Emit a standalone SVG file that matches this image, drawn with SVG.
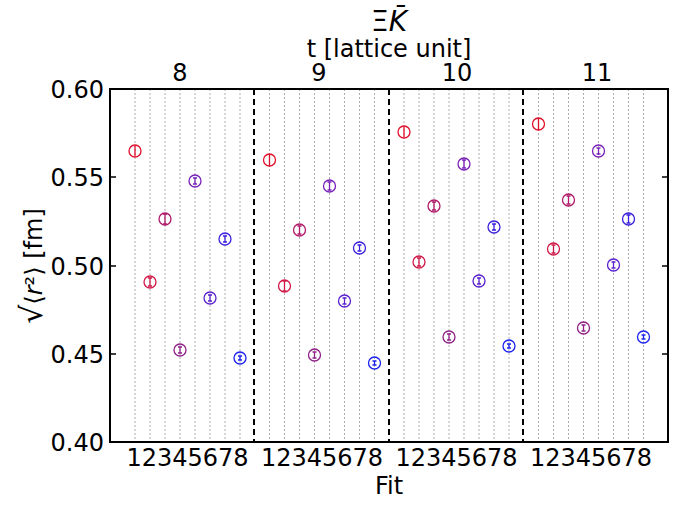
<svg xmlns="http://www.w3.org/2000/svg" width="674" height="505" viewBox="0 0 674 505">
<style>
text{font-family:"DejaVu Sans",sans-serif;fill:#000}
.t{font-size:24px}
.g{stroke:#999;stroke-width:0.8;stroke-dasharray:2,2}
.d{stroke:#000;stroke-width:2;stroke-dasharray:6,4}
.p circle{fill:none;stroke-width:1.3}
.p path{fill:none;stroke-width:1.3}
</style>
<rect width="674" height="505" fill="#fff"/>
<g id="grid">
<path class="g" d="M135,89V442M150,89V442M165,89V442M180,89V442M195,89V442M210,89V442M225,89V442M240,89V442M269.5,89V442M284.5,89V442M299.5,89V442M314.5,89V442M329.5,89V442M344.5,89V442M359.5,89V442M374.5,89V442M404,89V442M419,89V442M434,89V442M449,89V442M464,89V442M479,89V442M494,89V442M509,89V442M538.5,89V442M553.5,89V442M568.5,89V442M583.5,89V442M598.5,89V442M613.5,89V442M628.5,89V442M643.5,89V442"/>
</g>
<g id="connectors">
<path class="d" d="M254,89V442M389,89V442M523,89V442"/>
</g>
<g id="points" class="p">
<g stroke="#e0102a"><circle cx="135" cy="151" r="6"/><circle cx="269.5" cy="160" r="6"/><circle cx="404" cy="132" r="6"/><circle cx="538.5" cy="124" r="6"/><path d="M135,146V156M269.5,154V166M404,127V137M538.5,118V130"/></g>
<g stroke="#d01848"><circle cx="150" cy="282" r="6"/><circle cx="284.5" cy="286" r="6"/><circle cx="419" cy="262" r="6"/><circle cx="553.5" cy="249" r="6"/><path d="M148,278h4M150,278V286M148,286h4M282.5,281h4M284.5,281V291M282.5,291h4M417,258h4M419,258V266M417,266h4M551.5,245h4M553.5,245V253M551.5,253h4"/></g>
<g stroke="#b01868"><circle cx="165" cy="219" r="6"/><circle cx="299.5" cy="230" r="6"/><circle cx="434" cy="206" r="6"/><circle cx="568.5" cy="200" r="6"/><path d="M163,214h4M165,214V224M163,224h4M297.5,226h4M299.5,226V234M297.5,234h4M432,202h4M434,202V210M432,210h4M566.5,196h4M568.5,196V204M566.5,204h4"/></g>
<g stroke="#902088"><circle cx="180" cy="350" r="6"/><circle cx="314.5" cy="355" r="6"/><circle cx="449" cy="337" r="6"/><circle cx="583.5" cy="328" r="6"/><path d="M178,347h4M180,347V353M178,353h4M312.5,352h4M314.5,352V358M312.5,358h4M447,334h4M449,334V340M447,340h4M581.5,325h4M583.5,325V331M581.5,331h4"/></g>
<g stroke="#7820b8"><circle cx="195" cy="181" r="6"/><circle cx="329.5" cy="186" r="6"/><circle cx="464" cy="164" r="6"/><circle cx="598.5" cy="151" r="6"/><path d="M193,178h4M195,178V184M193,184h4M327.5,182h4M329.5,182V190M327.5,190h4M462,160h4M464,160V168M462,168h4M596.5,148h4M598.5,148V154M596.5,154h4"/></g>
<g stroke="#5a20d0"><circle cx="210" cy="298" r="6"/><circle cx="344.5" cy="301" r="6"/><circle cx="479" cy="281" r="6"/><circle cx="613.5" cy="265" r="6"/><path d="M208,295h4M210,295V301M208,301h4M342.5,298h4M344.5,298V304M342.5,304h4M477,278h4M479,278V284M477,284h4M611.5,262h4M613.5,262V268M611.5,268h4"/></g>
<g stroke="#3a20e0"><circle cx="225" cy="239" r="6"/><circle cx="359.5" cy="248" r="6"/><circle cx="494" cy="227" r="6"/><circle cx="628.5" cy="219" r="6"/><path d="M223,236h4M225,236V242M223,242h4M357.5,245h4M359.5,245V251M357.5,251h4M492,224h4M494,224V230M492,230h4M626.5,215h4M628.5,215V223M626.5,223h4"/></g>
<g stroke="#1a20f0"><circle cx="240" cy="358" r="6"/><circle cx="374.5" cy="363" r="6"/><circle cx="509" cy="346" r="6"/><circle cx="643.5" cy="337" r="6"/><path d="M238,356h4M240,356V360M238,360h4M372.5,361h4M374.5,361V365M372.5,365h4M507,344h4M509,344V348M507,348h4M641.5,335h4M643.5,335V339M641.5,339h4"/></g>
</g>
<g id="axes">
<rect x="110" y="89" width="558" height="353" fill="none" stroke="#000" stroke-width="2"/>
<path d="M110,89h6M110,177h6M110,266h6M110,354h6M110,442h6M668,89h-6M668,177h-6M668,266h-6M668,354h-6M668,442h-6" stroke="#000" stroke-width="1.5"/>
<text class="t" x="104" y="98" text-anchor="end">0.60</text>
<text class="t" x="104" y="186" text-anchor="end">0.55</text>
<text class="t" x="104" y="275" text-anchor="end">0.50</text>
<text class="t" x="104" y="363" text-anchor="end">0.45</text>
<text class="t" x="104" y="451" text-anchor="end">0.40</text>
<text class="t" x="187.5" y="466" text-anchor="middle">12345678</text>
<text class="t" x="322" y="466" text-anchor="middle">12345678</text>
<text class="t" x="456.5" y="466" text-anchor="middle">12345678</text>
<text class="t" x="591" y="466" text-anchor="middle">12345678</text>
<text class="t" x="389" y="494" text-anchor="middle">Fit</text>
<text class="t" x="180" y="81" text-anchor="middle">8</text>
<text class="t" x="319" y="81" text-anchor="middle">9</text>
<text class="t" x="457" y="81" text-anchor="middle">10</text>
<text class="t" x="597" y="81" text-anchor="middle">11</text>
<text class="t" x="389" y="57" text-anchor="middle">t [lattice unit]</text>
<text x="389" y="31" text-anchor="middle" font-size="28">Ξ<tspan font-style="italic">K̄</tspan></text>
<g transform="translate(42,266) rotate(-90)">
<text class="t" x="0" y="0" text-anchor="middle"><tspan font-size="30">√</tspan>⟨<tspan font-style="italic">r</tspan>²⟩ [fm]</text>
</g>
</g>
</svg>
